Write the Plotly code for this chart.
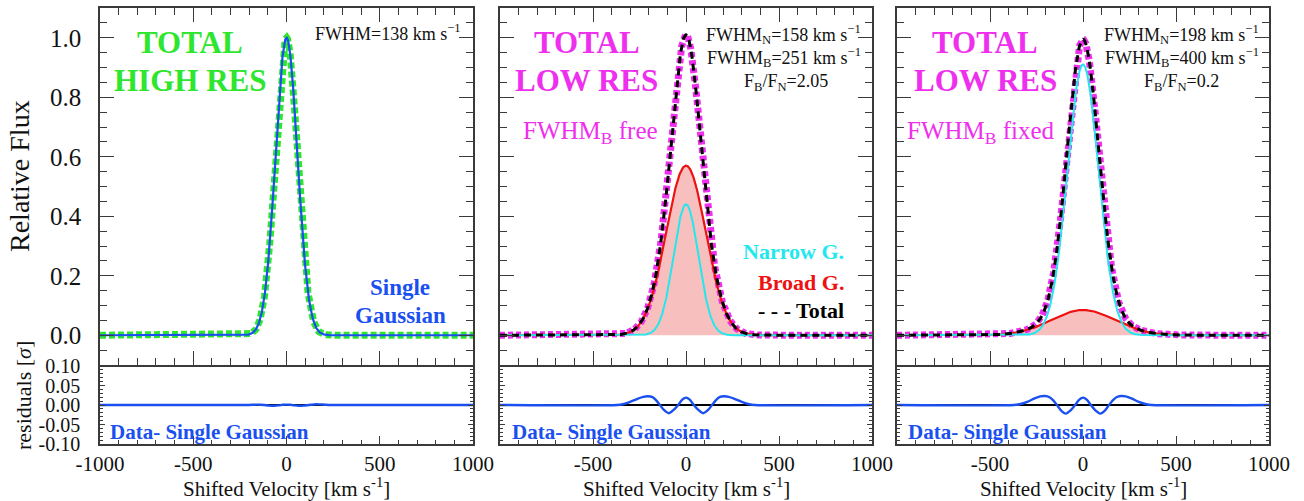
import numpy as np
import plotly.graph_objects as go

W, H = 1304, 501

# Velocity grid [km/s]
velocity = np.linspace(-1000, 1000, 1601)

# High-resolution profile: single Gaussian
high_fwhm = 138
high_amp = 1.0

# Low resolution, broad FWHM free
free_fwhm_narrow = 158
free_fwhm_broad = 251
free_amp_narrow = 0.44
free_amp_broad = 0.57

# Low resolution, broad FWHM fixed
fixed_fwhm_narrow = 198
fixed_fwhm_broad = 400
fixed_amp_narrow = 0.91
fixed_amp_broad = 0.085

# Residuals (data - single Gaussian), sampled along velocity
resid_vel = [-1000, -370, -340, -300, -260, -230, -205, -180, -160, -140, -120,
             -92, -65, -42, -20, 0, 20, 42, 65, 92, 120, 140, 160, 180, 205,
             230, 260, 300, 340, 370, 1000]
resid_high = [0.0, 0.0, 0.0, 0.0, 0.0, 0.0, 0.0, 0.0005, 0.001, 0.0008, 0.0,
              -0.0015, -0.002, -0.001, 0.0005, 0.001, 0.0005, -0.001, -0.002,
              -0.0015, 0.0, 0.001, 0.002, 0.0015, 0.0008, 0.0, 0.0, 0.0, 0.0,
              0.0, 0.0]
resid_free = [0.0, 0.0, 0.002, 0.008, 0.016, 0.021, 0.0225, 0.02, 0.012, 0.0,
              -0.012, -0.021, -0.012, 0.0, 0.014, 0.019, 0.014, 0.0, -0.012,
              -0.021, -0.012, 0.0, 0.012, 0.02, 0.0225, 0.021, 0.016, 0.008,
              0.002, 0.0, 0.0]
resid_fixed = [0.0, 0.0, 0.002, 0.008, 0.017, 0.022, 0.023, 0.02, 0.012, 0.0,
               -0.013, -0.022, -0.013, 0.0, 0.014, 0.019, 0.014, 0.0, -0.013,
               -0.022, -0.013, 0.0, 0.012, 0.02, 0.023, 0.022, 0.017, 0.008,
               0.002, 0.0, 0.0]

x_tickvals = [-1000, -500, 0, 500, 1000]
x_ticktext_first = ["-1000", "-500", "0", "500", "1000"]
x_ticktext_other = ["", "-500", "0", "500", "1000"]
flux_tickvals = [0.0, 0.2, 0.4, 0.6, 0.8, 1.0]
flux_ticktext = ["0.0", "0.2", "0.4", "0.6", "0.8", "1.0"]
resid_tickvals = [-0.10, -0.05, 0.0, 0.05, 0.10]
resid_ticktext = ["-0.10", "-0.05", "0.00", "0.05", "0.10"]

GREEN = "#2ee62e"
MAGENTA = "#ee30ee"
BLUE = "#1a4ff0"
CYAN = "#22e8ee"
RED = "#ee1111"
PINK = "rgba(245,170,170,0.75)"
FRAME = "#3a3a3a"
FONT = "Liberation Serif"


def gauss(v, amp, fwhm):
    sigma = fwhm / (2.0 * np.sqrt(2.0 * np.log(2.0)))
    return amp * np.exp(-0.5 * (v / sigma) ** 2)


high_data = gauss(velocity, high_amp, high_fwhm)

free_n = gauss(velocity, free_amp_narrow, free_fwhm_narrow)
free_b = gauss(velocity, free_amp_broad, free_fwhm_broad)
free_tot = free_n + free_b

fixed_n = gauss(velocity, fixed_amp_narrow, fixed_fwhm_narrow)
fixed_b = gauss(velocity, fixed_amp_broad, fixed_fwhm_broad)
fixed_tot = fixed_n + fixed_b

fig = go.Figure()


def line(x, y, ax, color, width, dash="solid", fill=None, fillcolor=None,
         shape="linear"):
    xa, ya = ax
    fig.add_trace(go.Scatter(
        x=x, y=y, mode="lines", xaxis=xa, yaxis=ya,
        line=dict(color=color, width=width, dash=dash, shape=shape,
                  smoothing=0.8 if shape == "spline" else None),
        fill=fill, fillcolor=fillcolor, showlegend=False, hoverinfo="skip"))


# Panel 1: high resolution
line(velocity, high_data, ("x", "y"), GREEN, 7, "6px,3px")
line(velocity, high_data, ("x", "y"), BLUE, 2.2)

# Panel 2: FWHM_B free
line(velocity, free_b, ("x2", "y2"), "rgba(0,0,0,0)", 0, fill="tozeroy", fillcolor=PINK)
line(velocity, free_tot, ("x2", "y2"), MAGENTA, 7, "5px,3px")
line(velocity, free_b, ("x2", "y2"), RED, 2.2)
line(velocity, free_n, ("x2", "y2"), CYAN, 2)
line(velocity, free_tot, ("x2", "y2"), "black", 3, "7px,5px")

# Panel 3: FWHM_B fixed
line(velocity, fixed_b, ("x3", "y3"), "rgba(0,0,0,0)", 0, fill="tozeroy", fillcolor=PINK)
line(velocity, fixed_tot, ("x3", "y3"), MAGENTA, 7, "5px,3px")
line(velocity, fixed_b, ("x3", "y3"), RED, 2.2)
line(velocity, fixed_n, ("x3", "y3"), CYAN, 2)
line(velocity, fixed_tot, ("x3", "y3"), "black", 3, "7px,5px")

# Residual panels
for k, res in zip((4, 5, 6), (resid_high, resid_free, resid_fixed)):
    line([-1000, 1000], [0, 0], (f"x{k}", f"y{k}"), "black", 2)
    line(resid_vel, res, (f"x{k}", f"y{k}"), BLUE, 2.4, shape="spline")

x_doms = [(100, 473), (500, 872), (897, 1269)]
main_y = (8, 365)
resid_y = (366, 444)


def pdx(px):
    return px / W


def pdy(py):
    return 1 - py / H


base_axis = dict(showgrid=False, zeroline=False, showline=True, linecolor=FRAME,
                 linewidth=1.5, ticks="inside", tickcolor=FRAME, tickwidth=1.3,
                 automargin=False,
                 tickfont=dict(family=FONT, color="#111", size=21))

layout = dict(width=W, height=H, margin=dict(l=0, r=0, t=0, b=0, pad=0),
              template="none", paper_bgcolor="white", plot_bgcolor="white",
              font=dict(family=FONT, color="#111"), showlegend=False)

for i, (x0, x1) in enumerate(x_doms):
    m = i + 1
    r = i + 4
    msuf = "" if m == 1 else str(m)
    layout[f"xaxis{msuf}"] = dict(
        base_axis, domain=[pdx(x0), pdx(x1)], range=[-1000, 1000], anchor=f"y{msuf}",
        tickmode="array", tickvals=x_tickvals, showticklabels=False,
        ticklen=14, mirror="ticks",
        minor=dict(tickmode="linear", tick0=0, dtick=100, ticks="inside",
                   ticklen=7, tickcolor=FRAME, tickwidth=1.2))
    layout[f"yaxis{msuf}"] = dict(
        base_axis, domain=[pdy(main_y[1]), pdy(main_y[0])], range=[-0.1, 1.1],
        anchor=f"x{msuf}", tickmode="array", tickvals=flux_tickvals,
        ticktext=flux_ticktext, showticklabels=(m == 1), ticklen=14, mirror="ticks",
        tickfont=dict(family=FONT, color="#111", size=25), ticklabelstandoff=12,
        minor=dict(tickmode="linear", tick0=0, dtick=0.05, ticks="inside",
                   ticklen=7, tickcolor=FRAME, tickwidth=1.2))
    layout[f"xaxis{r}"] = dict(
        base_axis, domain=[pdx(x0), pdx(x1)], range=[-1000, 1000], anchor=f"y{r}",
        tickmode="array", tickvals=x_tickvals,
        ticktext=x_ticktext_first if m == 1 else x_ticktext_other,
        ticklen=8, mirror=False, ticklabelstandoff=0,
        minor=dict(tickmode="linear", tick0=0, dtick=100, ticks="inside",
                   ticklen=4, tickcolor=FRAME, tickwidth=1.0))
    layout[f"yaxis{r}"] = dict(
        base_axis, domain=[pdy(resid_y[1]), pdy(resid_y[0])], range=[-0.1, 0.1],
        anchor=f"x{r}", tickmode="array", tickvals=resid_tickvals,
        ticktext=resid_ticktext, showticklabels=(m == 1), ticklen=5, mirror="ticks",
        tickfont=dict(family=FONT, color="#111", size=20), ticklabelstandoff=14,
        minor=dict(tickmode="linear", tick0=0, dtick=0.01, ticks="inside",
                   ticklen=3, tickcolor=FRAME, tickwidth=0.8))

fig.update_layout(**layout)

annots = []


def note(text, x, y, size, color="#111", xanchor="center", bold=False, angle=0):
    if bold:
        text = f"<b>{text}</b>"
    annots.append(dict(text=text, x=pdx(x), y=pdy(y), xref="paper", yref="paper",
                       xanchor=xanchor, yanchor="middle", showarrow=False,
                       textangle=angle,
                       font=dict(family=FONT, size=size, color=color)))


KMS = "km s<sup>−1</sup>"

# Panel 1 labels
note("TOTAL", 190, 42, 31, GREEN, bold=True)
note("HIGH RES", 190, 80, 31, GREEN, bold=True)
note(f"FWHM=138 {KMS}", 463, 33, 18, xanchor="right")
note("Single", 400, 287, 23, BLUE, bold=True)
note("Gaussian", 400, 315, 23, BLUE, bold=True)

# Panel 2 labels
note("TOTAL", 587, 42, 31, MAGENTA, bold=True)
note("LOW RES", 586, 80, 31, MAGENTA, bold=True)
note("FWHM<sub>B</sub> free", 590, 132, 25, MAGENTA)
note(f"FWHM<sub>N</sub>=158 {KMS}", 863, 35, 18, xanchor="right")
note(f"FWHM<sub>B</sub>=251 {KMS}", 863, 58, 18, xanchor="right")
note("F<sub>B</sub>/F<sub>N</sub>=2.05", 786, 82, 18)
note("Narrow G.", 846, 252, 22, CYAN, xanchor="right", bold=True)
note("Broad G.", 846, 282, 22, RED, xanchor="right", bold=True)
note("- - - Total", 846, 310, 22, "black", xanchor="right", bold=True)

# Panel 3 labels
note("TOTAL", 985, 42, 31, MAGENTA, bold=True)
note("LOW RES", 985, 80, 31, MAGENTA, bold=True)
note("FWHM<sub>B</sub> fixed", 981, 132, 25, MAGENTA)
note(f"FWHM<sub>N</sub>=198 {KMS}", 1261, 35, 18, xanchor="right")
note(f"FWHM<sub>B</sub>=400 {KMS}", 1261, 58, 18, xanchor="right")
note("F<sub>B</sub>/F<sub>N</sub>=0.2", 1181, 82, 18)

# Residual labels
for x0 in (108, 510, 906):
    note("Data- Single Gaussian", x0, 432, 21, BLUE, xanchor="left", bold=True)

# Axis titles
note("Relative Flux", 20, 176, 28, angle=-90)
note("residuals [<i>σ</i>]", 23, 396, 22, angle=-90)
for cx in (286, 686, 1083):
    note("Shifted Velocity [km s<sup>-1</sup>]", cx, 487, 21)

fig.update_layout(annotations=annots)

fig.write_html("out.html")
